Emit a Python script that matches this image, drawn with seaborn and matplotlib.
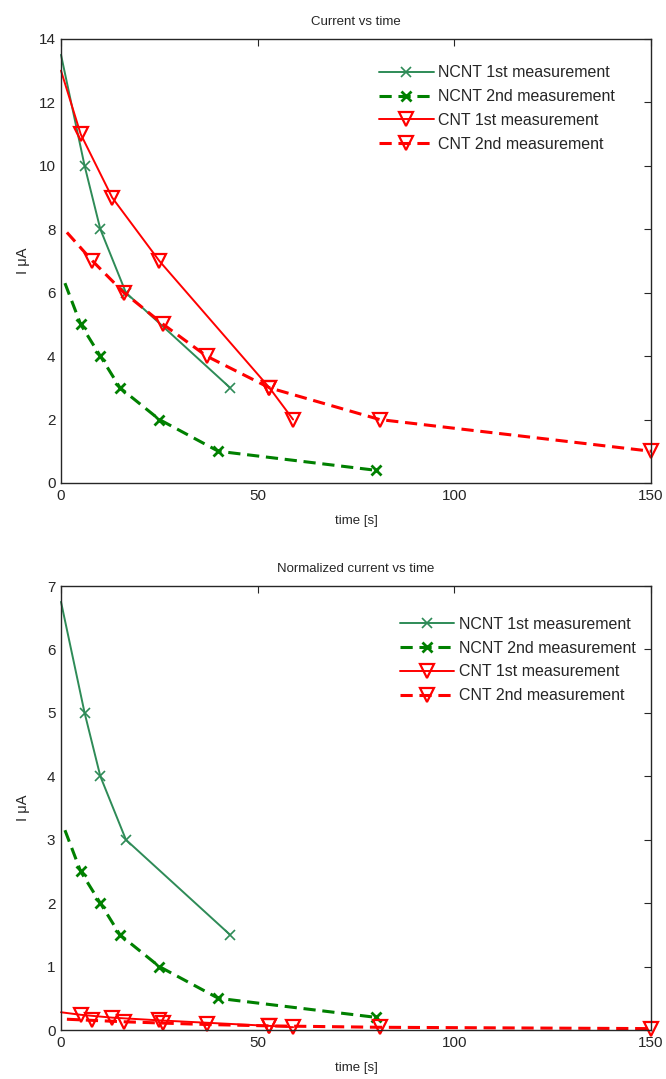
import matplotlib
matplotlib.use("Agg")
import matplotlib.pyplot as plt
import seaborn as sns
import pandas as pd

# Measured decay curves (time in s, current in uA); the first entry of each
# series is the starting point of the trace and carries no marker.
ncnt1_t = [0, 6, 10, 16.5, 43]
ncnt1_i = [13.5, 10, 8, 6, 3]
ncnt2_t = [1, 5, 10, 15, 25, 40, 80]
ncnt2_i = [6.3, 5, 4, 3, 2, 1, 0.4]
cnt1_t = [0, 5, 13, 25, 53, 59]
cnt1_i = [13, 11, 9, 7, 3, 2]
cnt2_t = [1.5, 8, 16, 26, 37, 53, 81, 150]
cnt2_i = [7.9, 7, 6, 5, 4, 3, 2, 1]

# Normalized currents
ncnt1_n = [6.75, 5, 4, 3, 1.5]
ncnt2_n = [3.15, 2.5, 2, 1.5, 1, 0.5, 0.2]
cnt1_n = [0.28, 0.24, 0.195, 0.152, 0.065, 0.044]
cnt2_n = [0.17, 0.152, 0.13, 0.109, 0.087, 0.065, 0.043, 0.022]

labels = ["NCNT 1st measurement", "NCNT 2nd measurement",
          "CNT 1st measurement", "CNT 2nd measurement"]
x_ticks = [0, 50, 100, 150]
top_yticks = [0, 2, 4, 6, 8, 10, 12, 14]
bottom_yticks = [0, 1, 2, 3, 4, 5, 6, 7]

sns.set_style("white")
plt.rcParams["font.family"] = ["Liberation Sans", "DejaVu Sans"]

SEAGREEN = "#2e8b57"
GREEN = "#008000"
RED = "#ff0000"
INK = "#262626"

styles = [
    dict(color=SEAGREEN, linestyle="-", linewidth=1.4, marker="x",
         markersize=7, markeredgecolor=SEAGREEN, markeredgewidth=1.2),
    dict(color=GREEN, linestyle=(0, (4, 2.2)), linewidth=2.2, marker="x",
         markersize=7, markeredgecolor=GREEN, markeredgewidth=2.0),
    dict(color=RED, linestyle="-", linewidth=1.4, marker="v",
         markersize=10, markeredgecolor=RED, markerfacecolor="none",
         markeredgewidth=1.6),
    dict(color=RED, linestyle=(0, (4, 2.2)), linewidth=2.2, marker="v",
         markersize=10, markeredgecolor=RED, markerfacecolor="none",
         markeredgewidth=1.6),
]

fig = plt.figure(figsize=(6.66, 10.79), dpi=100)
ax_top = fig.add_axes([0.0916, 0.5524, 0.886, 0.4115])
ax_bot = fig.add_axes([0.0916, 0.0454, 0.886, 0.4115])


def draw(ax, series, title, yticks, legend_anchor):
    for (t, v), lab, st in zip(series, labels, styles):
        df = pd.DataFrame({"t": t, "v": v})
        sns.lineplot(data=df, x="t", y="v", ax=ax, label=lab,
                     estimator=None, sort=False,
                     markevery=list(range(1, len(t))),
                     legend=False, clip_on=False, **st)
    ax.set_xlim(0, 150)
    ax.set_ylim(yticks[0], yticks[-1])
    ax.set_xticks(x_ticks)
    ax.set_yticks(yticks)
    ax.tick_params(direction="in", top=True, right=True, length=5, width=0.8,
                   labelsize=11, colors=INK, pad=4)
    for sp in ax.spines.values():
        sp.set_visible(True)
        sp.set_color(INK)
        sp.set_linewidth(1.0)
        sp.set_zorder(5)
    ax.set_title(title, fontsize=9.5, pad=10, color=INK)
    ax.set_xlabel("time [s]", fontsize=9.5, labelpad=9, color=INK)
    ax.set_ylabel("I μA", fontsize=10.5, color=INK)
    ax.yaxis.set_label_coords(-0.052, 0.5)
    ax.legend(loc="upper right", bbox_to_anchor=legend_anchor, frameon=False,
              fontsize=11.5, handlelength=3.4, handletextpad=0.3,
              labelspacing=0.55, borderaxespad=0)


draw(ax_top, [(ncnt1_t, ncnt1_i), (ncnt2_t, ncnt2_i),
              (cnt1_t, cnt1_i), (cnt2_t, cnt2_i)],
     "Current vs time", top_yticks, (0.95, 0.955))
draw(ax_bot, [(ncnt1_t, ncnt1_n), (ncnt2_t, ncnt2_n),
              (cnt1_t, cnt1_n), (cnt2_t, cnt2_n)],
     "Normalized current vs time", bottom_yticks, (0.985, 0.945))

fig.savefig("out.png", dpi=100, facecolor="white")
